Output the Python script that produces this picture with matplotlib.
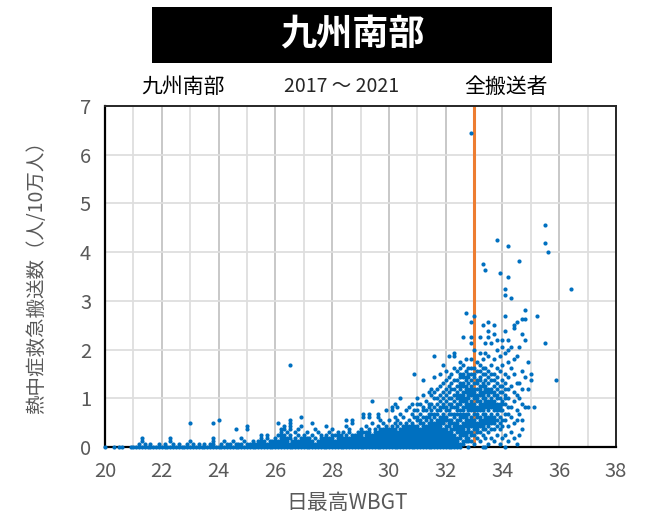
import matplotlib
matplotlib.use("Agg")
import matplotlib.pyplot as plt
from matplotlib.patches import Rectangle

plt.rcParams['font.family'] = ['Noto Sans CJK JP', 'DejaVu Sans']

# ---------------- texts ----------------
title_text = "九州南部"
sub_region = "九州南部"
sub_period = "2017 ～ 2021"
sub_group = "全搬送者"
x_label = "日最高WBGT"
y_label = "熱中症救急搬送数（人/10万人）"

x_ticks = [20, 22, 24, 26, 28, 30, 32, 34, 36, 38]
y_ticks = [0, 1, 2, 3, 4, 5, 6, 7]
threshold_wbgt = 33.0

# ---------------- data ----------------
# y value of one step (rate per 100k for one person)
level_step = 0.0625

# low band (WBGT 20.0 - 30.9): level -> WBGT values (0.1 steps, ranges inclusive)
low_rows = [
    (0, "20.0,20.3,20.5,20.6,20.9-30.9"),
    (1, "21.2,21.4,21.6,21.9,22.1,22.4,22.6,22.9,23.1,23.3,23.5,23.7,23.8,24.1,24.3,24.4,24.6-24.8,25.0-30.9"),
    (2, "21.3,22.3,23.0,23.8,24.2,24.5,24.9,25.2,25.4-25.6,25.8-26.4,26.6-27.3,27.5-30.9"),
    (3, "21.3,22.3,23.8,24.8,25.5,25.7,26.0,26.2-26.5,26.7,26.9-27.2,27.4,27.6-28.0,28.2-30.9"),
    (4, "25.5,25.7,26.1-26.3,26.5,26.8,27.0,27.3,27.6,27.8,28.0-28.3,28.5,28.7-29.0,29.2-30.9"),
    (5, "26.2,26.4,26.7,27.1,27.5,27.9,28.2,28.4,28.6,28.9-29.3,29.5-30.9"),
    (6, "24.6,25.0,26.2,26.3,26.5,26.8,27.4,28.0,28.6,29.0,29.3,29.5,29.7-30.2,30.4-30.9"),
    (7, "25.0,26.3,26.5,26.9,27.8,28.5,29.2,29.6,29.9,30.1,30.3,30.5-30.9"),
    (8, "23.0,23.8,26.1,26.5,27.3,28.7,29.4,29.8,30.2,30.4,30.6,30.8"),
    (9, "24.0,26.5,28.5,28.7,29.7,30.0,30.3,30.7"),
    (10, "26.9,29.1,29.3,29.6,30.2,30.5,30.9"),
    (11, "29.1,29.3,29.6,30.4,30.8"),
    (12, "29.9,30.1,30.6,30.9"),
    (13, "30.1,30.3,30.7"),
    (14, "30.2,30.8"),
    (15, "29.4"),
    (16, "30.4"),
    (24, "30.9"),
]

# high band (WBGT 31.0 - 36.4): WBGT -> levels (ranges inclusive)
high_cols = [
    (31.0, "0-7,9,10,12,14,16"),
    (31.1, "0-6,8,9,11,14"),
    (31.2, "0-8,10,12,13,17,22"),
    (31.3, "0-7,9,10,12,15"),
    (31.4, "0-8,10,11,13,14,18"),
    (31.5, "0-9,11,12,14,17,19"),
    (31.6, "0-8,10,11,13,16,18,23,30"),
    (31.7, "0-9,11,12,14,16,19"),
    (31.8, "0-10,12,13,15,17,20,24"),
    (31.9, "0-6,8-11,13,14,16,18,21,27"),
    (32.0, "0-7,9,10,12,13,15,17,19,22,25"),
    (32.1, "0-5,7-9,11,12,14,16,18,20,23,30"),
    (32.2, "0-6,8,9,11,13,14,16,19,21,24"),
    (32.3, "0-4,6-8,10,11,13,15,17,19,22,26,30,31"),
    (32.4, "0-3,5-9,11-14,16-18,20,22,25"),
    (32.5, "0,1,3-7,9-12,14-17,19-21,23,24,26,28"),
    (32.6, "1,2,4-8,10-13,15-18,20,21,23,24,27,36"),
    (32.7, "2-5,7-11,13-16,18-20,22,23,25,29,44"),
    (32.8, "0,2,3,5-9,11-14,16-19,21,23,24,26"),
    (32.9, "2,4,5,7-10,12-15,17-20,22,24,26,29,34,36,41,103"),
    (33.0, "1,4,6-9,11-14,16-19,21,23,24,26,32,43"),
    (33.1, "3,5-8,10-13,15-17,19,21,22,25,28"),
    (33.2, "2,5,7-10,12-15,17-20,22,23,25,27,31,36"),
    (33.3, "0,4,6-9,11-14,16-18,20,21,24,26,29,40,60"),
    (33.4, "0,3,6,8-11,13-16,18-20,22,24,26,31,34,58"),
    (33.5, "1,5,7-10,12-15,17-19,21,23,25,30,36,38,41"),
    (33.6, "3,6,8-11,13-16,18,19,22,24,27,34"),
    (33.7, "2,6,8-10,12-15,17,18,20,22,24,29,37,40"),
    (33.8, "4,7,9,11-14,16,17,19,21,23,26,32,35,68"),
    (33.9, "1,6,8,10,12-14,16,18,20,25,30,57"),
    (34.0, "3,7,9,12,14,15,18,20,22,27,33,35"),
    (34.1, "0,4,9,11,14,16,17,19,21,24,31,38,43,50,52"),
    (34.2, "2,7,11,13,16,19,23,28,32,35,56,66"),
    (34.3, "5,10,13,20,26,33,49"),
    (34.4, "3,8,15,18,24,29,39,40"),
    (34.5, "1,9,12,17,21,30,41"),
    (34.6, "4,11,16,21,33,61"),
    (34.7, "6,9,14,19,25,37,42"),
    (34.8, "13,23,35,42,45"),
    (34.9, "13,19,28"),
    (35.0, "22,24"),
    (35.1, "13"),
    (35.2, "43"),
    (35.5, "34,67,73"),
    (35.6, "64"),
    (35.9, "22"),
    (36.4, "52"),
]

outlier_x = [26.5]
outlier_y = [1.68]


def expand_int(spec):
    out = []
    for tok in spec.split(","):
        if "-" in tok:
            a, b = tok.split("-")
            out.extend(range(int(a), int(b) + 1))
        else:
            out.append(int(tok))
    return out


def expand_tenths(spec):
    out = []
    for tok in spec.split(","):
        if "-" in tok:
            a, b = tok.split("-")
            out.extend(v / 10 for v in range(round(float(a) * 10), round(float(b) * 10) + 1))
        else:
            out.append(float(tok))
    return out


xs, ys = [], []
for lvl, spec in low_rows:
    for xv in expand_tenths(spec):
        xs.append(xv)
        ys.append(lvl * level_step)
for xv, spec in high_cols:
    for lvl in expand_int(spec):
        xs.append(xv)
        ys.append(lvl * level_step)
xs += outlier_x
ys += outlier_y

# ---------------- figure ----------------
W, H = 645, 517
fig = plt.figure(figsize=(W / 100, H / 100), dpi=100)
ax = fig.add_axes([105 / W, 1 - 447 / H, (616 - 105) / W, (447 - 106) / H])

ax.set_xlim(20, 38)
ax.set_ylim(0, 7)
ax.set_xticks(x_ticks)
ax.set_yticks(y_ticks)
ax.set_xticks(range(21, 38, 2), minor=True)

ax.grid(True, which="major", axis="x", color="#c4c4c4", lw=1.3, zorder=0)
ax.grid(True, which="minor", axis="x", color="#dedede", lw=1.3, zorder=0)
ax.grid(True, which="major", axis="y", color="#dedede", lw=1.3, zorder=0)
ax.tick_params(which="both", length=0, labelsize=14.5, labelcolor="#595959", pad=10)

for side in ["left", "bottom"]:
    ax.spines[side].set_color("#000000")
    ax.spines[side].set_linewidth(1.6)
for side in ["top", "right"]:
    ax.spines[side].set_color("#262626")
    ax.spines[side].set_linewidth(1.4)

ax.axvline(threshold_wbgt, color="#ED7D31", lw=2.2, zorder=2)
ax.scatter(xs, ys, s=9, color="#0070C0", linewidths=0, zorder=3, clip_on=False)

ax.set_xlabel(x_label, fontsize=15, color="#595959")
ax.xaxis.set_label_coords((347 - 105) / (616 - 105), -(503 - 447) / (447 - 106))
ax.xaxis.label.set_va("center")
ax.set_ylabel(y_label, fontsize=14, color="#595959")
ax.yaxis.set_label_coords(-(105 - 37) / (616 - 105), (447 - 273) / (447 - 106))
ax.yaxis.label.set_va("center")

# title box
fig.patches.append(Rectangle((152 / W, 1 - 63 / H), 400 / W, 56 / H,
                             transform=fig.transFigure, facecolor="black",
                             edgecolor="none"))
fig.text(352 / W, 1 - 35 / H, title_text, color="white", fontsize=26,
         fontweight="bold", ha="center", va="center")

fig.text(183 / W, 1 - 87 / H, sub_region, fontsize=15, color="black",
         ha="center", va="center")
fig.text(342 / W, 1 - 87 / H, sub_period, fontsize=14, color="#262626",
         ha="center", va="center")
fig.text(506 / W, 1 - 87 / H, sub_group, fontsize=15, color="black",
         ha="center", va="center")

fig.savefig("out.png", dpi=100)
